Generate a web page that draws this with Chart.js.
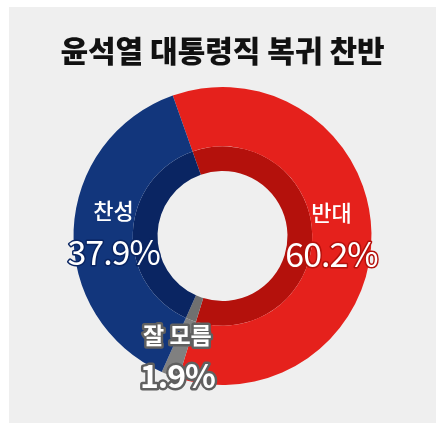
<!DOCTYPE html>
<html>
<head>
<meta charset="utf-8">
<script src="https://cdn.jsdelivr.net/npm/chart.js@4"></script>
<style>
  body { margin: 0; background: #fff; }
  #box { position: absolute; left: 9px; top: 7px; width: 427px; height: 416px; background: #efefef; }
</style>
</head>
<body>
<div id="box"><canvas id="chartPoll"></canvas></div>
<script>
const labels = ['반대', '잘 모름', '찬성'];
const values = [60.2, 1.9, 37.9];
const valueLabels = ['60.2%', '1.9%', '37.9%'];

const colors = {
    outer: ['#e5211c', '#808080', '#12367c'],
    inner: ['#b4110c', '#707070', '#0a2562'],
    outline: ['#b4110c', '#606060', '#0a2562']
}

// draws the name + percent over each slice
const sliceLabels = {
    id: 'sliceLabels',
    afterDatasetsDraw(chart) {
        const ctx = chart.ctx;
        const arcs = chart.getDatasetMeta(0).data;
        ctx.save();
        ctx.textAlign = 'center';
        ctx.textBaseline = 'middle';
        ctx.lineJoin = 'round';
        arcs.forEach((arc, i) => {
            const mid = (arc.startAngle + arc.endAngle) / 2;
            const small = values[i] < 5;
            const r = small ? 128 : 109;
            const x = arc.x + r * Math.cos(mid);
            const y = arc.y + r * Math.sin(mid);

            ctx.font = (small ? 'bold 23px' : '500 22px') + ' "Noto Sans CJK KR"';
            if (small) {
                ctx.strokeStyle = colors.outline[i];
                ctx.lineWidth = 5;
                ctx.strokeText(labels[i], x, y - 21);
            }
            ctx.fillStyle = '#fff';
            ctx.fillText(labels[i], x, y - 21);

            ctx.font = (small ? 'bold 32px' : '34px') + ' "Noto Sans CJK KR"';
            ctx.letterSpacing = '-1px';
            ctx.strokeStyle = colors.outline[i];
            ctx.lineWidth = small ? 5 : 3;
            ctx.strokeText(valueLabels[i], x, y + 20);
            ctx.fillStyle = '#fff';
            ctx.fillText(valueLabels[i], x, y + 20);
            ctx.letterSpacing = '0px';
        });
        ctx.restore();
    }
}

const ctx = document.getElementById('chartPoll').getContext('2d');
const chartPoll = new Chart(ctx, {
    type: 'doughnut',
    data: {
        labels: labels,
        datasets: [{
            data: values,
            backgroundColor: colors.outer,
            borderWidth: 0,
            weight: 60
        }, {
            data: values,
            backgroundColor: colors.inner,
            borderWidth: 0,
            weight: 25
        }]
    },
    options: {
        responsive: true,
        maintainAspectRatio: false,
        animation: false,
        cutout: 65,
        rotation: -19.5,
        layout: {
            padding: { top: 0, bottom: 38, left: 0, right: 0 }
        },
        plugins: {
            legend: { display: false },
            tooltip: { enabled: false },
            title: {
                display: true,
                text: '윤석열 대통령직 복귀 찬반',
                color: '#111',
                font: { family: '"Noto Sans CJK KR"', size: 30, weight: 900 },
                padding: { top: 26, bottom: 18 }
            }
        }
    },
    plugins: [sliceLabels]
});
</script>
</body>
</html>
